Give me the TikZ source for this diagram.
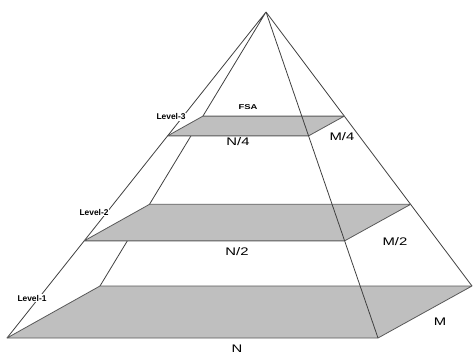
\documentclass[tikz,border=0pt]{standalone}
\usepackage{fontspec}
\setmainfont{Liberation Sans}
\usetikzlibrary{calc,math}

\begin{document}
\begin{tikzpicture}[x=1pt,y=-1pt,
  edge/.style={draw=black!75,line width=0.8pt},
  slab/.style={fill=black!25,draw=black!65,line width=0.8pt,line join=round},
  lvl/.style={fill=white,inner sep=0.5pt,font=\fontsize{8.4}{9}\selectfont\bfseries},
  dim/.style={inner sep=0pt,xscale=1.35,font=\fontsize{11}{12}\selectfont}]
\tikzmath{
\tA=0.38;
\tB=0.702;
}
\useasboundingbox (0,0) rectangle (474,356);
%\draw[help lines,step=50] (0,0) grid (474,356);
\coordinate (T) at (266,12);
\coordinate (A) at (7,338);
\coordinate (B) at (378,338);
\coordinate (C) at (472,286);
\coordinate (D) at (100,286);
\foreach \p in{A,B,C,D}{
\coordinate (\p_3) at ($(T)!\tA!(\p)$);
\coordinate (\p_2) at ($(T)!\tB!(\p)$);
}
\draw[edge] (T)--(A) (T)--(D) (T)--(C);
\draw[slab] (A)--(B)--(C)--(D)--cycle;
\draw[slab] (A_2)--(B_2)--(C_2)--(D_2)--cycle;
\draw[slab] (A_3)--(B_3)--(C_3)--(D_3)--cycle;
\draw[edge] (T)--(B);
\node[lvl] (lv3) at (171,117) {Level-3};
\node[lvl] (lv2) at (94,212) {Level-2};
\node[lvl] (lv1) at (32,298) {Level-1};
\node[dim,font=\fontsize{7}{8}\selectfont\bfseries] (fsa) at (248,107) {FSA};
\node[dim] (n4) at (238,142) {N/4};
\node[dim] (m4) at (342,137) {M/4};
\node[dim] (n2) at (237,252) {N/2};
\node[dim] (m2) at (395,242) {M/2};
\node[dim] (m) at (440,322) {M};
\node[dim] (n) at (237,349) {N};
\end{tikzpicture}
\end{document}
